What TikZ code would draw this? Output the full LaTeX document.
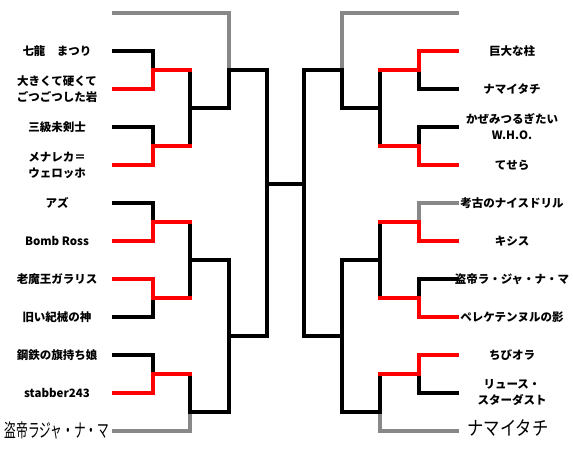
\documentclass[tikz,border=0pt]{standalone}
\usepackage{fontspec}
\setmainfont{Noto Sans CJK JP}
\definecolor{byegray}{HTML}{888888}
\begin{document}
\begin{tikzpicture}[x=1pt, y=-1pt,
  lose/.style={draw=black, line width=3.6pt, line cap=rect},
  win/.style={draw=red, line width=3.6pt, line cap=rect},
  bye/.style={draw=byegray, line width=3.6pt, line cap=rect},
  entry/.style={font=\fontsize{11.5}{16}\selectfont\bfseries, align=center, inner sep=0pt},
  scrawl/.style={font=\fontsize{13}{16}\selectfont, inner sep=0pt},
]
  \useasboundingbox (0,0) rectangle (573,451);
  % left slots
  \coordinate (a0) at (114,13);  \coordinate (a1) at (114,51);  \coordinate (a2) at (114,89);
  \coordinate (a3) at (114,127); \coordinate (a4) at (114,165); \coordinate (a5) at (114,203);
  \coordinate (a6) at (114,241); \coordinate (a7) at (114,279); \coordinate (a8) at (114,317);
  \coordinate (a9) at (114,355); \coordinate (a10) at (114,393); \coordinate (a11) at (114,431);
  \coordinate (m1) at (153,70);  \coordinate (m2) at (153,146); \coordinate (m3) at (153,222);
  \coordinate (m4) at (153,298); \coordinate (m5) at (153,374);
  \coordinate (n1) at (190,108); \coordinate (n2) at (190,260); \coordinate (n3) at (190,412);
  \coordinate (p1) at (229,70);  \coordinate (p2) at (229,336);
  \coordinate (q) at (267,184);
  % right slots
  \coordinate (b0) at (457,13);  \coordinate (b1) at (457,51);  \coordinate (b2) at (457,89);
  \coordinate (b3) at (457,127); \coordinate (b4) at (457,165); \coordinate (b5) at (457,203);
  \coordinate (b6) at (457,241); \coordinate (b7) at (457,279); \coordinate (b8) at (457,317);
  \coordinate (b9) at (457,355); \coordinate (b10) at (457,393); \coordinate (b11) at (457,431);
  \coordinate (rm1) at (419,70);  \coordinate (rm2) at (419,146); \coordinate (rm3) at (419,222);
  \coordinate (rm4) at (419,298); \coordinate (rm5) at (419,374);
  \coordinate (rn1) at (380,108); \coordinate (rn2) at (380,260); \coordinate (rn3) at (380,412);
  \coordinate (rp1) at (342,70);  \coordinate (rp2) at (342,336);
  \coordinate (rq) at (304,184);

  % names, left
  \node[entry] (L1) at (57,51) {七龍　まつり};
  \node[entry] (L2) at (57,89) {大きくて硬くて\\ごつごつした岩};
  \node[entry] (L3) at (57,127) {三級未剣士};
  \node[entry] (L4) at (57,165) {メナレカ＝\\ウェロッホ};
  \node[entry] (L5) at (57,203) {アズ};
  \node[entry] (L6) at (57,241) {Bomb Ross};
  \node[entry] (L7) at (57,279) {老魔王ガラリス};
  \node[entry] (L8) at (57,317) {旧い紀械の神};
  \node[entry] (L9) at (57,355) {鋼鉄の旗持ち娘};
  \node[entry] (L10) at (57,393) {stabber243};
  \node[scrawl] (L11) at (57,430) {\scalebox{0.9}[1.45]{盗帝ラジャ・ナ・マ}};
  % names, right
  \node[entry] (R1) at (512,51) {巨大な柱};
  \node[entry] (R2) at (512,89) {ナマイタチ};
  \node[entry] (R3) at (512,127) {かぜみつるぎたい\\W.H.O.};
  \node[entry] (R4) at (512,165) {てせら};
  \node[entry] (R5) at (512,203) {考古のナイスドリル};
  \node[entry] (R6) at (512,241) {キシス};
  \node[entry] (R7) at (512,279) {盗帝ラ・ジャ・ナ・マ};
  \node[entry] (R8) at (512,317) {ペレケテンヌルの影};
  \node[entry] (R9) at (512,355) {ちびオラ};
  \node[entry] (R10) at (512,393) {リュース・\\スターダスト};
  \node[scrawl] (R11) at (508,428) {\scalebox{1.25}[1.5]{ナマイタチ}};

  % empty slots
  \draw[bye] (a0) -| (p1);
  \draw[bye] (a11) -| (n3);
  \draw[bye] (b0) -| (rp1);
  \draw[bye] (b5) -| (rm3);
  \draw[bye] (b11) -| (rn3);

  % undecided
  \draw[lose] (a1) -| (m1);
  \draw[lose] (a3) -| (m2);
  \draw[lose] (a5) -| (m3);
  \draw[lose] (a8) -| (m4);
  \draw[lose] (a9) -| (m5);
  \draw[lose] (m1 -| n1) -- (m2 -| n1);
  \draw[lose] (m3 -| n2) -- (m4 -| n2);
  \draw[lose] (m5 -| n3) -- (n3);
  \draw[lose] (n1) -| (p1);
  \draw[lose] (n2) -| (p2);
  \draw[lose] (n3) -| (p2);
  \draw[lose] (p1) -| (q);
  \draw[lose] (p2) -| (q);
  \draw[lose] (q) -- (rq);
  \draw[lose] (b2) -| (rm1);
  \draw[lose] (b3) -| (rm2);
  \draw[lose] (b7) -| (rm4);
  \draw[lose] (b10) -| (rm5);
  \draw[lose] (rm1 -| rn1) -- (rm2 -| rn1);
  \draw[lose] (rm3 -| rn2) -- (rm4 -| rn2);
  \draw[lose] (rm5 -| rn3) -- (rn3);
  \draw[lose] (rn1) -| (rp1);
  \draw[lose] (rn2) -| (rp2);
  \draw[lose] (rn3) -| (rp2);
  \draw[lose] (rp1) -| (rq);
  \draw[lose] (rp2) -| (rq);

  % winners
  \draw[win] (a2) -| (m1) -- (m1 -| n1);
  \draw[win] (a4) -| (m2) -- (m2 -| n1);
  \draw[win] (a6) -| (m3) -- (m3 -| n2);
  \draw[win] (a7) -| (m4) -- (m4 -| n2);
  \draw[win] (a10) -| (m5) -- (m5 -| n3);
  \draw[win] (b1) -| (rm1) -- (rm1 -| rn1);
  \draw[win] (b4) -| (rm2) -- (rm2 -| rn1);
  \draw[win] (b6) -| (rm3) -- (rm3 -| rn2);
  \draw[win] (b8) -| (rm4) -- (rm4 -| rn2);
  \draw[win] (b9) -| (rm5) -- (rm5 -| rn3);
\end{tikzpicture}
\end{document}
